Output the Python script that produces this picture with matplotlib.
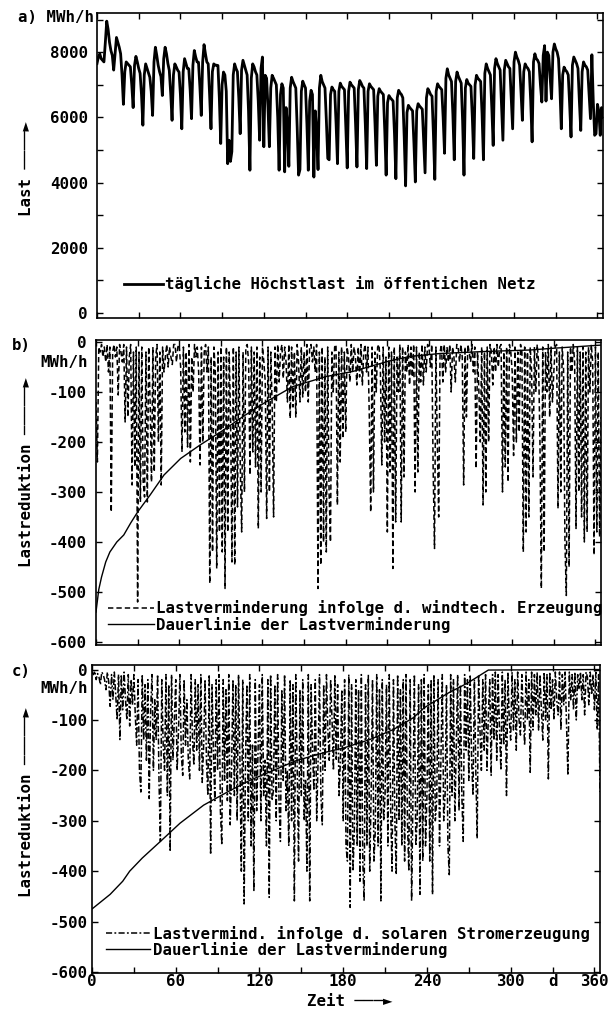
import matplotlib
matplotlib.use("Agg")
import matplotlib.pyplot as plt

plt.rcParams['font.family'] = ['DejaVu Sans Mono', 'DejaVu Sans']
plt.rcParams['font.weight'] = 'bold'
plt.rcParams['axes.unicode_minus'] = False

# ---------------- data ----------------
# a) daily peak load in the public grid, MWh/h, day 0..364
load = [
    7650, 7850, 7950, 7800, 7750, 7700,
    8300, 8950, 8700, 8300, 8050, 7900, 7450,
    7950, 8450, 8300, 8150, 7950, 7300, 6400,
    7400, 7700, 7650, 7600, 7550, 7000, 6300,
    7600, 7870, 7700, 7500, 7350, 6700, 5760,
    7300, 7640, 7500, 7350, 7230, 6800, 6060,
    7700, 8150, 7900, 7600, 7400, 7250, 6670,
    7800, 8150, 7950, 7650, 7440, 6750, 5910,
    7300, 7640, 7550, 7450, 7390, 6700, 5650,
    7400, 7800, 7650, 7500, 7490, 6850, 5960,
    7600, 8050, 7850, 7700, 7690, 6950, 6060,
    7700, 8230, 7950, 7700, 7640, 6700, 5650,
    7400, 7640, 7600, 7600, 7590, 6600, 5200,
    7000, 7390, 7300, 6800, 4580, 5300, 4650,
    4950, 7300, 7640, 7500, 7400, 6600, 5500,
    7450, 7750, 7600, 7450, 7300, 6200, 4380,
    7200, 7640, 7550, 7400, 7300, 6500, 5300,
    7500, 7850, 5100, 7290, 7200, 6300, 5100,
    6900, 7290, 7200, 7100, 7000, 6000, 4380,
    6700, 7030, 6900, 4330, 6300, 5800, 4500,
    6900, 7230, 7100, 7000, 6900, 5700, 4230,
    4400, 6800, 7110, 7000, 6900, 5800, 4380,
    6500, 6830, 6700, 4170, 6200, 5600, 4400,
    6900, 7290, 7100, 7000, 6900, 5900, 4740,
    4700, 6700, 6930, 6850, 6800, 5800, 4580,
    6800, 7050, 6950, 6900, 6850, 5700, 4450,
    6800, 7080, 7000, 6950, 6900, 5800, 4480,
    6850, 7130, 7050, 6950, 6900, 5800, 4430,
    6800, 7030, 6950, 6900, 6850, 5800, 4530,
    6650, 6880, 6800, 6750, 6700, 5600, 4230,
    6450, 6670, 6600, 6550, 6500, 5500, 4120,
    6600, 6830, 6750, 6700, 6600, 5400, 3900,
    6150, 6370, 6300, 6250, 6200, 5200, 4020,
    6200, 6420, 6350, 6300, 6250, 5300, 4300,
    6600, 6880, 6800, 6700, 6650, 5500, 4100,
    6800, 7030, 6950, 6900, 6850, 6000, 4900,
    7200, 7490, 7300, 7200, 7100, 6100, 4700,
    7100, 7390, 7250, 7150, 7050, 5900, 4230,
    6900, 7160, 7050, 7000, 6950, 6000, 4740,
    7000, 7290, 7200, 7150, 7100, 6100, 4700,
    7350, 7640, 7500, 7400, 7300, 6300, 5140,
    7500, 7800, 7650, 7550, 7450, 6400, 5300,
    7450, 7750, 7650, 7550, 7500, 6600, 5650,
    7700, 8000, 7850, 7750, 7600, 6800, 5910,
    7400, 7640, 7550, 7500, 7400, 6500, 5250,
    7700, 7950, 7800, 7750, 7650, 7000, 6470,
    7900, 8200, 6500, 8000, 7900, 7200, 6570,
    8000, 8250, 8100, 8000, 7800, 6900, 5650,
    7300, 7540, 7450, 7400, 7300, 6400, 5400,
    7600, 7850, 7750, 7650, 7500, 6500, 5600,
    7400, 7700, 7600, 7550, 7450, 6700, 5960,
    7920, 6500, 5450, 5500, 6400, 6200, 5450,
    6300, 6000,
]

# b) load reduction by wind generation, MWh/h, day 0..364
wind = [
    -120, -240, -10, -20, -5, -30, -10, -40, -5, -60,
    -10, -340, -20, -5, -30, -10, -106, -5, -20, -40,
    -5, -160, -10, -150, -30, -5, -286, -20, -250, -10,
    -520, -20, -320, -10, -280, -310, -20, -320, -10, -120,
    -280, -10, -260, -30, -5, -200, -20, -286, -10, -60,
    -30, -5, -50, -10, -30, -45, -5, -5, -40, -10,
    -5, -50, -220, -10, -180, -20, -210, -5, -240, -30,
    -100, -5, -30, -10, -60, -246, -10, -200, -20, -5,
    -60, -10, -483, -30, -420, -10, -60, -453, -20, -380,
    -10, -420, -30, -493, -10, -380, -20, -150, -440, -10,
    -446, -20, -330, -10, -250, -380, -20, -300, -10, -5,
    -40, -266, -10, -220, -20, -250, -10, -373, -30, -300,
    -10, -40, -80, -353, -10, -300, -20, -130, -350, -10,
    -120, -5, -80, -20, -5, -73, -10, -40, -120, -5,
    -153, -10, -130, -20, -150, -5, -40, -120, -10, -110,
    -20, -100, -5, -120, -10, -5, -40, -10, -60, -5,
    -493, -20, -446, -10, -400, -30, -420, -10, -300, -400,
    -20, -100, -10, -5, -326, -20, -240, -10, -193, -20,
    -180, -10, -30, -80, -5, -60, -10, -30, -86, -10,
    -70, -5, -86, -20, -5, -60, -10, -150, -340, -10,
    -300, -20, -100, -10, -5, -60, -246, -10, -200, -30,
    -380, -10, -260, -20, -453, -10, -360, -30, -100, -5,
    -360, -10, -270, -20, -60, -5, -86, -10, -70, -5,
    -300, -10, -260, -20, -80, -5, -86, -10, -60, -5,
    -10, -50, -5, -250, -413, -10, -200, -350, -20, -5,
    -80, -5, -60, -10, -40, -5, -100, -10, -30, -80,
    -5, -10, -40, -5, -30, -286, -10, -150, -5, -20,
    -40, -5, -60, -10, -253, -20, -100, -200, -10, -326,
    -20, -300, -10, -200, -5, -20, -86, -10, -60, -5,
    -50, -10, -5, -300, -20, -250, -10, -280, -5, -20,
    -60, -227, -10, -200, -20, -180, -5, -20, -420, -10,
    -380, -20, -350, -10, -60, -270, -10, -100, -5, -40,
    -200, -493, -10, -420, -20, -100, -5, -150, -10, -120,
    -60, -10, -5, -333, -20, -300, -10, -50, -400, -507,
    -20, -450, -10, -60, -5, -40, -373, -10, -300, -20,
    -350, -10, -400, -20, -380, -10, -100, -5, -40, -426,
    -10, -380, -20, -390, -150,
]

# c) load reduction by solar generation, MWh/h, day 0..364
solar = [
    -5, -10, -3, -20, -8, -15, -30, -5, -10, -20,
    -40, -5, -25, -73, -10, -60, -5, -50, -100, -10,
    -139, -10, -80, -5, -60, -100, -10, -112, -20, -70,
    -10, -90, -150, -20, -200, -243, -10, -140, -30, -180,
    -20, -256, -80, -10, -200, -60, -140, -10, -220, -341,
    -20, -150, -200, -10, -250, -30, -361, -10, -180, -100,
    -20, -200, -120, -10, -170, -210, -20, -150, -60, -180,
    -217, -10, -140, -190, -20, -160, -30, -200, -10, -224,
    -150, -20, -180, -250, -10, -367, -30, -160, -260, -20,
    -200, -10, -280, -348, -20, -220, -40, -260, -10, -308,
    -200, -20, -250, -30, -300, -10, -180, -400, -20, -465,
    -180, -30, -300, -10, -350, -150, -440, -20, -280, -160,
    -30, -300, -10, -250, -180, -350, -20, -452, -10, -260,
    -240, -30, -300, -10, -260, -341, -40, -220, -10, -280,
    -200, -350, -20, -300, -30, -459, -10, -200, -380, -40,
    -250, -20, -300, -220, -400, -10, -459, -30, -160, -240,
    -20, -300, -180, -10, -250, -308, -30, -200, -10, -120,
    -180, -20, -100, -200, -10, -178, -30, -250, -180, -40,
    -300, -20, -350, -380, -10, -472, -30, -400, -320, -20,
    -350, -40, -420, -10, -380, -459, -30, -350, -10, -400,
    -250, -20, -380, -320, -10, -350, -40, -459, -20, -300,
    -250, -30, -350, -10, -280, -400, -20, -300, -407, -10,
    -300, -40, -350, -20, -380, -10, -300, -400, -20, -459,
    -250, -10, -350, -300, -30, -446, -20, -380, -10, -350,
    -250, -30, -380, -20, -446, -10, -300, -260, -20, -350,
    -180, -10, -300, -250, -30, -350, -407, -10, -250, -20,
    -300, -150, -10, -280, -30, -250, -341, -10, -160, -20,
    -220, -10, -180, -250, -20, -200, -335, -10, -120, -200,
    -20, -160, -10, -200, -90, -20, -210, -10, -140, -5,
    -180, -10, -120, -200, -5, -150, -20, -250, -5, -100,
    -140, -5, -120, -20, -160, -5, -100, -130, -10, -90,
    -150, -5, -100, -20, -204, -5, -120, -10, -90, -5,
    -120, -10, -80, -140, -5, -100, -10, -217, -5, -80,
    -20, -100, -5, -60, -90, -5, -120, -10, -70, -5,
    -110, -210, -5, -60, -10, -80, -5, -100, -10, -40,
    -5, -60, -10, -90, -5, -15, -70, -5, -50, -10,
    -80, -5, -120, -10, -243,
]

# duration curves (Dauerlinie), read at selected days
dur_b_days = [0, 2, 4, 7, 10, 15, 20, 25, 30, 39, 49, 61, 75, 92, 106, 123,
              142, 166, 185, 210, 226, 248, 280, 313, 327, 365]
dur_b_vals = [-540, -495, -470, -440, -420, -400, -386, -362, -340, -306, -266,
              -233, -206, -176, -149, -119, -89, -69, -59, -39, -29, -23, -19,
              -16, -13, -6]

dur_c_days = [0, 13, 22, 27, 36, 49, 63, 80, 97, 113, 130, 146, 166, 181, 199,
              216, 230, 238, 255, 269, 284, 365]
dur_c_vals = [-475, -446, -420, -400, -374, -341, -305, -269, -243, -220, -200,
              -181, -165, -155, -139, -119, -96, -76, -47, -27, -1, 0]

assert len(load) == 365 and len(wind) == 365 and len(solar) == 365
days = list(range(365))

xticks = list(range(0, 361, 30))
xticklabels = ['0', '', '60', '', '120', '', '180', '', '240', '', '300', 'd', '360']

label_a = 'tägliche Höchstlast im öffentichen Netz'
label_b = 'Lastverminderung infolge d. windtech. Erzeugung'
label_c = 'Lastvermind. infolge d. solaren Stromerzeugung'
label_dur = 'Dauerlinie der Lastverminderung'

# ---------------- figure ----------------
W, H = 609, 1014
fig = plt.figure(figsize=(W / 100, H / 100), dpi=100)


def box(l, r, t, b):
    return [l / W, 1 - b / H, (r - l) / W, (b - t) / H]


axa = fig.add_axes(box(97, 603, 13, 318))
axb = fig.add_axes(box(96, 601, 340, 645))
axc = fig.add_axes(box(92, 600, 665, 973))

FS = 11.3

axa.plot(days, load, color='black', lw=2.0, label=label_a)
axa.set_ylim(-150, 9200)
axa.set_yticks([0, 2000, 4000, 6000, 8000])
axa.set_yticks([1000, 3000, 5000, 7000, 9000], minor=True)

axb.plot(days, wind, color='black', lw=1.1, dashes=(3.5, 2.0), label=label_b)
axb.plot(dur_b_days, dur_b_vals, color='black', lw=1.0, label=label_dur)
axb.set_ylim(-606, 4)
axb.set_yticks([0, -100, -200, -300, -400, -500, -600])

axc.plot(days, solar, color='black', lw=1.1, dashes=(4.0, 1.5, 1.2, 1.5), label=label_c)
axc.plot(dur_c_days, dur_c_vals, color='black', lw=1.0, label=label_dur)
axc.set_ylim(-602, 9)
axc.set_yticks([0, -100, -200, -300, -400, -500, -600])

for ax in (axa, axb, axc):
    ax.set_xlim(0, 364)
    ax.set_xticks(xticks)
    ax.tick_params(which='both', direction='in', top=True, right=True,
                   length=4, width=1.0, labelsize=FS)
    ax.tick_params(axis='y', pad=6.5)
    for s in ax.spines.values():
        s.set_linewidth(1.2)
    for t in ax.get_yticklabels():
        t.set_fontweight('bold')

axc.tick_params(axis='y', pad=3.5)
axa.tick_params(axis='x', labelbottom=False)
axb.tick_params(axis='x', labelbottom=False)
axc.set_xticklabels(xticklabels, fontsize=FS, fontweight='bold')
axc.tick_params(axis='x', pad=1)

# legends
axa.legend(loc='lower left', bbox_to_anchor=(0.053, 0.085), frameon=False,
           fontsize=FS, handlelength=2.5, handletextpad=0.1,
           borderpad=0, borderaxespad=0)
axb.legend(loc='lower left', bbox_to_anchor=(0.024, 0.04), frameon=False,
           fontsize=FS, handlelength=2.9, handletextpad=0.15, labelspacing=0.05,
           borderpad=0, borderaxespad=0)
axc.legend(loc='lower left', bbox_to_anchor=(0.028, 0.05), frameon=False,
           fontsize=FS, handlelength=2.8, handletextpad=0.15, labelspacing=0.0,
           borderpad=0, borderaxespad=0)

# panel letters and units
fig.text(18 / W, 1 - 18 / H, 'a) MWh/h', fontsize=FS, fontweight='bold', ha='left', va='center')
fig.text(12 / W, 1 - 346 / H, 'b)', fontsize=FS, fontweight='bold', ha='left', va='center')
fig.text(88 / W, 1 - 362 / H, 'MWh/h', fontsize=FS, fontweight='bold', ha='right', va='center')
fig.text(12 / W, 1 - 672 / H, 'c)', fontsize=FS, fontweight='bold', ha='left', va='center')
fig.text(88 / W, 1 - 688 / H, 'MWh/h', fontsize=FS, fontweight='bold', ha='right', va='center')

# axis labels with arrows
fig.text(27 / W, 1 - 168 / H, 'Last ────►', rotation=90, fontsize=FS,
         fontweight='bold', ha='center', va='center')
fig.text(27 / W, 1 - 472 / H, 'Lastreduktion ─────►', rotation=90, fontsize=FS,
         fontweight='bold', ha='center', va='center')
fig.text(27 / W, 1 - 802 / H, 'Lastreduktion ─────►', rotation=90, fontsize=FS,
         fontweight='bold', ha='center', va='center')
fig.text(350 / W, 1 - 1002 / H, 'Zeit ───►', fontsize=FS, fontweight='bold',
         ha='center', va='center')

fig.savefig('out.png', dpi=100, facecolor='white')
